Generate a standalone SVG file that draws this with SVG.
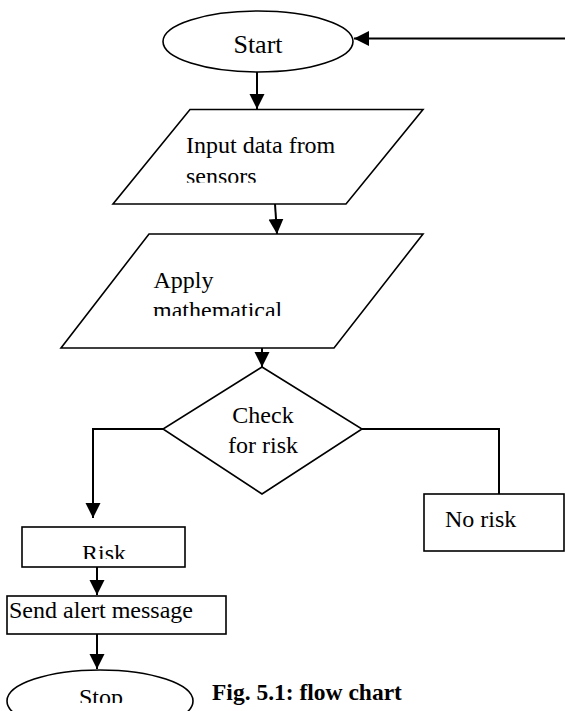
<svg xmlns="http://www.w3.org/2000/svg" width="565" height="711" viewBox="0 0 565 711">
<style>
.shape{fill:#fff;stroke:#000;stroke-width:1.6}
.conn{fill:none;stroke:#000;stroke-width:2}
.t{font-family:"Liberation Serif","Times New Roman",serif;font-size:24px;fill:#000}
.cap{font-family:"Liberation Serif","Times New Roman",serif;font-size:23.5px;font-weight:bold;fill:#000}
</style>
<defs>
<marker id="ah" markerUnits="userSpaceOnUse" markerWidth="16" markerHeight="16" viewBox="0 0 16 16" refX="15" refY="8" orient="auto">
<path d="M0,0.5 L15,8 L0,15.5 Z" fill="#000"/>
</marker>
<clipPath id="c1"><rect x="0" y="0" width="565" height="182.7"/></clipPath>
<clipPath id="c2"><rect x="0" y="0" width="565" height="316"/></clipPath>
<clipPath id="c3"><rect x="0" y="0" width="565" height="559"/></clipPath>
<clipPath id="c4"><rect x="0" y="0" width="565" height="703"/></clipPath>
</defs>
<g id="connectors">
<line class="conn" x1="565" y1="38.5" x2="354" y2="38.5" marker-end="url(#ah)"/>
<line class="conn" x1="257" y1="72" x2="257" y2="109" marker-end="url(#ah)"/>
<line class="conn" x1="275" y1="204" x2="277" y2="234" marker-end="url(#ah)"/>
<line class="conn" x1="262" y1="348" x2="262" y2="367" marker-end="url(#ah)"/>
<polyline class="conn" points="163,429 93,429 93,518" marker-end="url(#ah)"/>
<polyline class="conn" points="362,429 499,429 499,494"/>
<line class="conn" x1="97" y1="567" x2="97" y2="595" marker-end="url(#ah)"/>
<line class="conn" x1="97" y1="634" x2="97" y2="669" marker-end="url(#ah)"/>
</g>
<g id="start">
<ellipse class="shape" cx="258" cy="41.5" rx="95" ry="30.5"/>
<text class="t" x="258" y="53" text-anchor="middle" style="font-size:26px">Start</text>
</g>
<g id="input">
<polygon class="shape" points="190,109.5 423,109.5 346,204 113,204"/>
<text class="t" x="186" y="153">Input data from</text>
<text class="t" x="186" y="184" clip-path="url(#c1)">sensors</text>
</g>
<g id="apply">
<polygon class="shape" points="149,234 423,234 334,348 61,348"/>
<text class="t" x="153.5" y="288">Apply</text>
<text class="t" x="153" y="317.5" clip-path="url(#c2)">mathematical</text>
</g>
<g id="check">
<polygon class="shape" points="262,367 362,429 262,494 163,429"/>
<text class="t" x="263" y="423" text-anchor="middle">Check</text>
<text class="t" x="263" y="453" text-anchor="middle">for risk</text>
</g>
<g id="norisk">
<rect class="shape" x="424" y="494" width="140" height="57"/>
<text class="t" x="445" y="527">No risk</text>
</g>
<g id="risk">
<rect class="shape" x="22" y="527" width="163" height="40"/>
<text class="t" x="82" y="561" clip-path="url(#c3)">Risk</text>
</g>
<g id="alert">
<rect class="shape" x="7" y="596" width="219" height="38"/>
<text class="t" x="9" y="618">Send alert message</text>
</g>
<g id="stop">
<ellipse class="shape" cx="100" cy="701" rx="93" ry="31"/>
<text class="t" x="101" y="705" text-anchor="middle" clip-path="url(#c4)">Stop</text>
</g>
<text class="cap" x="212" y="700">Fig. 5.1: flow chart</text>
</svg>
